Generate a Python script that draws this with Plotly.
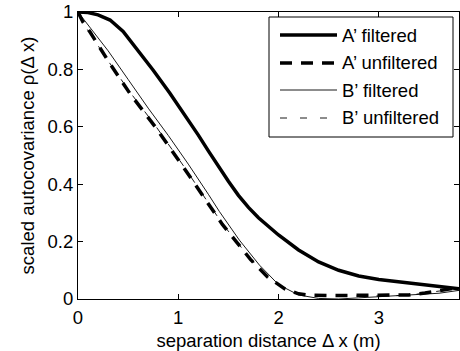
import plotly.graph_objects as go

# ---- data ----
x_af = [0, 0.1, 0.2, 0.32, 0.45, 0.58, 0.75, 0.915, 1.0, 1.1, 1.2, 1.3, 1.4, 1.5, 1.6, 1.7,
        1.8, 1.9, 2.0, 2.2, 2.4, 2.6, 2.8, 3.0, 3.2, 3.4, 3.6, 3.8]
y_af = [1.0, 0.998, 0.99, 0.972, 0.932, 0.875, 0.797, 0.718, 0.675, 0.624, 0.571, 0.516, 0.462,
        0.41, 0.361, 0.319, 0.283, 0.251, 0.223, 0.171, 0.129, 0.1, 0.08, 0.068, 0.06, 0.053, 0.045, 0.036]

x_au = [0, 0.05, 0.12, 0.3, 0.52, 0.77, 1.05, 1.31, 1.44, 1.59, 1.72, 1.89, 2.06, 2.2, 2.3,
        2.5, 2.8, 3.1, 3.3, 3.46, 3.65, 3.8]
y_au = [1.0, 0.965, 0.93, 0.83, 0.715, 0.60, 0.46, 0.327, 0.26, 0.195, 0.138, 0.077, 0.036,
        0.018, 0.013, 0.012, 0.012, 0.012, 0.014, 0.021, 0.031, 0.04]

x_bf = [0, 0.1, 0.3, 0.5, 0.7, 0.9, 1.1, 1.3, 1.41, 1.61, 1.81, 2.0, 2.2, 2.4, 2.6, 2.8, 3.0,
        3.3, 3.6, 3.8]
y_bf = [1.0, 0.955, 0.865, 0.765, 0.665, 0.57, 0.47, 0.365, 0.305, 0.205, 0.118, 0.05, 0.014,
        0.002, 0.0, 0.004, 0.008, 0.012, 0.02, 0.03]

x_bu = x_au
y_bu = [1.0, 0.962, 0.925, 0.83, 0.72, 0.605, 0.465, 0.33, 0.262, 0.197, 0.139, 0.078, 0.036,
        0.018, 0.012, 0.01, 0.01, 0.011, 0.013, 0.02, 0.03, 0.038]

series_names = ["A\u2019 filtered", "A\u2019 unfiltered", "B\u2019 filtered", "B\u2019 unfiltered"]
x_ticks = [0, 1, 2, 3]
y_ticks = [0, 0.2, 0.4, 0.6, 0.8, 1]
x_title = "separation distance \u0394 x (m)"
y_title = "scaled autocovariance \u03c1(\u0394 x)"

# ---- styles ----
W, H = 460, 351
L, R, T, B = 78, 1, 12, 52
FONT = "Liberation Sans, Arial, Helvetica, sans-serif"
FS = 18.5
styles = [
    dict(width=3.5, dash="solid"),
    dict(width=3.5, dash="12px,9px"),
    dict(width=0.9, dash="solid"),
    dict(width=0.9, dash="7px,13px"),
]
data = [(x_af, y_af), (x_au, y_au), (x_bf, y_bf), (x_bu, y_bu)]
order = [3, 1, 2, 0]

fig = go.Figure()
for i in order:
    xs, ys = data[i]
    fig.add_trace(go.Scatter(x=xs, y=ys, mode="lines", name=series_names[i],
                             line=dict(color="black", **styles[i]),
                             showlegend=False))

# ---- manual MATLAB-style legend ----
pw = W - L - R
ph = H - T - B
def px(xp):
    return (xp - L) / pw
def py(yp):
    return (H - B - yp) / ph

shapes = [dict(type="rect", xref="paper", yref="paper",
               x0=px(269), x1=px(453), y0=py(137), y1=py(17),
               line=dict(color="black", width=1), fillcolor="white", layer="above")]
annotations = []
rows = [35, 63, 90, 118]
for i, yr in enumerate(rows):
    shapes.append(dict(type="line", xref="paper", yref="paper",
                       x0=px(280), x1=px(337), y0=py(yr), y1=py(yr),
                       line=dict(color="black", width=styles[i]["width"],
                                 dash=styles[i]["dash"]), layer="above"))
    annotations.append(dict(xref="paper", yref="paper", x=px(340), y=py(yr),
                            text=series_names[i], showarrow=False,
                            xanchor="left", yanchor="middle",
                            font=dict(size=FS, color="black", family=FONT)))

axis_common = dict(showgrid=False, zeroline=False, showline=True, linecolor="black",
                   linewidth=1, mirror="ticks", ticks="inside", ticklen=5,
                   tickcolor="black", tickwidth=1, automargin=False,
                   tickfont=dict(size=FS, color="black", family=FONT))

fig.update_layout(
    width=W, height=H,
    margin=dict(l=L, r=R, t=T, b=B, pad=0, autoexpand=False),
    paper_bgcolor="white", plot_bgcolor="white",
    font=dict(family=FONT, size=FS, color="black"),
    shapes=shapes, annotations=annotations,
    xaxis=dict(range=[0, 3.8], tickvals=x_ticks, ticktext=[str(v) for v in x_ticks],
               ticklabelstandoff=2,
               title=dict(text=x_title, font=dict(size=FS, family=FONT), standoff=12),
               **axis_common),
    yaxis=dict(range=[0, 1], tickvals=y_ticks, ticktext=["0", "0.2", "0.4", "0.6", "0.8", "1"],
               title=dict(text=y_title, font=dict(size=FS, family=FONT), standoff=8),
               **axis_common),
)

fig.write_html("out.html")
